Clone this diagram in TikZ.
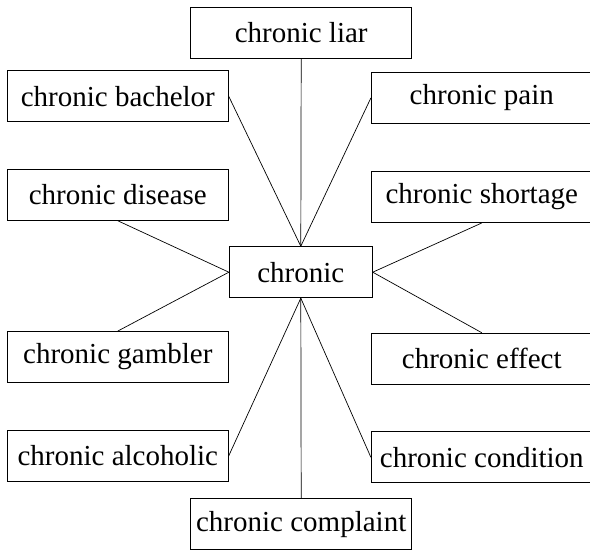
\documentclass[tikz,border=0pt]{standalone}
\usepackage{fontspec}
\setmainfont{Liberation Serif}
\usepackage{tikz}

\begin{document}
\begin{tikzpicture}[x=1pt,y=-1pt,
	word/.style={rectangle, draw, line width=0.9pt, align=center, inner sep=0pt,
		font=\fontsize{29}{34}\selectfont, minimum width=221pt, minimum height=51pt},
	root/.style={word, minimum width=143pt},
	link/.style={line width=0.7pt}
	]
	\useasboundingbox (0,0) rectangle (590,550);
	\clip (0,0) rectangle (590,550);

	\node[root] (CH) at (300.8,272.2) {chronic};

	\node[word] (LI) at (301.2,32.8) {chronic liar};
	\node[word] (BA) at (117.8,96.3) {chronic bachelor};
	\node[word] (DI) at (117.8,194.8) {chronic disease};
	\node[word] (GA) at (117.8,357) {chronic gambler};
	\node[word] (AL) at (117.8,455.8) {chronic alcoholic};
	\node[word] (CO) at (301.2,524.3) {chronic complaint};
	\node[word] (PA) at (481.8,98) {chronic pain};
	\node[word] (SH) at (481.8,197) {chronic shortage};
	\node[word] (EF) at (481.8,358.7) {chronic effect};
	\node[word] (CD) at (481.8,457.2) {chronic condition};

	\draw[link] (LI.south) -- (CH.north);
	\draw[link] (BA.east) -- (CH.north);
	\draw[link] (PA.west) -- (CH.north);
	\draw[link] (DI.south) -- (CH.west);
	\draw[link] (GA.north) -- (CH.west);
	\draw[link] (SH.south) -- (CH.east);
	\draw[link] (EF.north) -- (CH.east);
	\draw[link] (AL.east) -- (CH.south);
	\draw[link] (CD.west) -- (CH.south);
	\draw[link] (CO.north) -- (CH.south);

\end{tikzpicture}
\end{document}
